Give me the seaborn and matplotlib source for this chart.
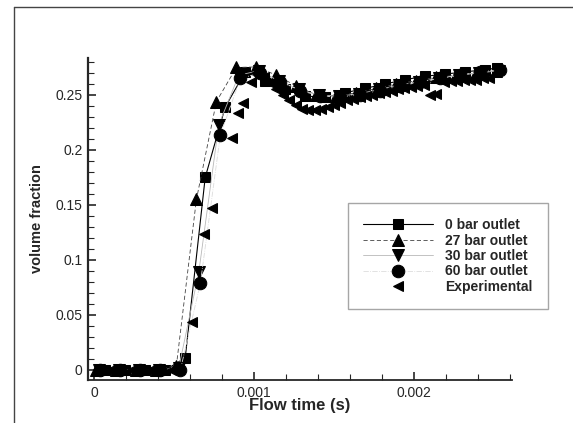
import numpy as np
import pandas as pd
import matplotlib
matplotlib.use("Agg")
import matplotlib.pyplot as plt
import seaborn as sns
from matplotlib.lines import Line2D
from matplotlib.ticker import MultipleLocator, FuncFormatter

# 0 bar outlet (squares)
t_0bar = [0.00007, 0.000195, 0.00032, 0.000445, 0.00057, 0.000695, 0.00082, 0.000945,
          0.00107, 0.001195, 0.00132, 0.001445, 0.00157, 0.001695, 0.00182, 0.001945,
          0.00207, 0.002195, 0.00232, 0.002445, 0.00252]
v_0bar = [0, 0, 0, 0, 0.011, 0.175, 0.239, 0.271,
          0.263, 0.255, 0.249, 0.248, 0.252, 0.256, 0.260, 0.264,
          0.267, 0.269, 0.271, 0.273, 0.2745]

# 27 bar outlet (up triangles)
t_27bar = [0.000015, 0.00014, 0.000265, 0.00039, 0.000515, 0.00064, 0.000765, 0.00089,
           0.001015, 0.00114, 0.001265, 0.00139, 0.001515, 0.00164, 0.001765, 0.00189,
           0.002015, 0.00214, 0.002265, 0.00239, 0.002515]
v_27bar = [0, 0, 0, 0, 0.004, 0.155, 0.244, 0.275,
           0.2755, 0.268, 0.258, 0.250, 0.249, 0.252, 0.256, 0.260,
           0.263, 0.266, 0.268, 0.270, 0.272]

# 30 bar outlet (down triangles)
t_30bar = [0.00003, 0.000155, 0.00028, 0.000405, 0.00053, 0.000655, 0.00078, 0.000905,
           0.00103, 0.001155, 0.00128, 0.001405, 0.00153, 0.001655, 0.00178, 0.001905,
           0.00203, 0.002155, 0.00228, 0.002405, 0.00253]
v_30bar = [0, 0, 0, 0, 0.002, 0.089, 0.223, 0.268,
           0.272, 0.263, 0.255, 0.250, 0.249, 0.251, 0.255, 0.259,
           0.262, 0.265, 0.268, 0.270, 0.272]

# 60 bar outlet (circles)
t_60bar = [0.00004, 0.000165, 0.00029, 0.000415, 0.00054, 0.000665, 0.00079, 0.000915,
           0.00104, 0.001165, 0.00129, 0.001415, 0.00154, 0.001665, 0.00179, 0.001915,
           0.00204, 0.002165, 0.00229, 0.002415, 0.00254]
v_60bar = [0, 0, 0, 0, 0, 0.079, 0.214, 0.265,
           0.270, 0.262, 0.254, 0.249, 0.248, 0.250, 0.254, 0.258,
           0.262, 0.265, 0.268, 0.271, 0.273]

# Experimental (left triangles)
t_exp = [0.0001, 0.00023, 0.00035, 0.00048, 0.00061, 0.00069, 0.00074, 0.00086,
         0.0009, 0.00093, 0.00098, 0.00101, 0.00106, 0.0011, 0.00114, 0.00118,
         0.00122, 0.00126, 0.0013, 0.00134, 0.00138, 0.00142, 0.00146, 0.0015,
         0.00154, 0.00158, 0.00162, 0.00166, 0.0017, 0.00174, 0.00178, 0.00182,
         0.00186, 0.0019, 0.00194, 0.00198, 0.00202, 0.00206, 0.0021, 0.00214,
         0.00219, 0.00223, 0.00227, 0.00231, 0.00235, 0.00239, 0.00243, 0.00247]
v_exp = [0, 0, 0, 0, 0.044, 0.124, 0.147, 0.211,
         0.234, 0.243, 0.262, 0.270, 0.266, 0.261, 0.255, 0.250,
         0.245, 0.241, 0.237, 0.236, 0.236, 0.237, 0.239, 0.241,
         0.243, 0.245, 0.246, 0.248, 0.249, 0.250, 0.252, 0.253,
         0.254, 0.255, 0.256, 0.257, 0.258, 0.259, 0.250, 0.251,
         0.262, 0.263, 0.263, 0.264, 0.264, 0.264, 0.265, 0.265]

sns.set_style("ticks")
plt.rcParams['font.family'] = ['Liberation Sans', 'DejaVu Sans']

fig = plt.figure(figsize=(5.73, 4.23), dpi=100)
ax = fig.add_axes([88 / 573, 1 - 380 / 423, (512 - 88) / 573, (380 - 58) / 423])

series = [
    ("0 bar outlet", t_0bar, v_0bar, "s", 7.5, dict(color="black", linestyle="-", linewidth=0.8)),
    ("27 bar outlet", t_27bar, v_27bar, "^", 8, dict(color="#444444", linestyle=(0, (5, 3)), linewidth=0.6)),
    ("30 bar outlet", t_30bar, v_30bar, "v", 8, dict(color="#b8b8b8", linestyle="-", linewidth=0.6)),
    ("60 bar outlet", t_60bar, v_60bar, "o", 9, dict(color="#dddddd", linestyle="-.", linewidth=0.6)),
]
for name, t, v, mk, ms, ls in series:
    df = pd.DataFrame({"t": t, "v": v})
    sns.lineplot(data=df, x="t", y="v", ax=ax, marker=mk, markersize=ms,
                 markerfacecolor="black", markeredgecolor="black",
                 sort=False, estimator=None, label=name, **ls)

df_exp = pd.DataFrame({"t": t_exp, "v": v_exp})
sns.lineplot(data=df_exp, x="t", y="v", ax=ax, marker="<", markersize=7,
             markerfacecolor="black", markeredgecolor="black", linestyle="none",
             color="black", sort=False, estimator=None, label="Experimental")

ax.set_xlim(-0.0000375, 0.0026125)
ax.set_ylim(-0.0091, 0.2836)
ax.xaxis.set_major_locator(MultipleLocator(0.001))
ax.xaxis.set_minor_locator(MultipleLocator(0.0002))
ax.yaxis.set_major_locator(MultipleLocator(0.05))
ax.yaxis.set_minor_locator(MultipleLocator(0.01))
ax.xaxis.set_major_formatter(FuncFormatter(lambda x, p: f"{x:g}"))
ax.yaxis.set_major_formatter(FuncFormatter(lambda x, p: f"{x:g}"))

sns.despine(ax=ax)
ax.spines['left'].set_linewidth(1.6)
ax.spines['bottom'].set_linewidth(1.3)
ax.tick_params(which='major', direction='in', length=6, width=1.2, labelsize=10, pad=4)
ax.tick_params(which='minor', direction='in', length=4, width=0.8)

ax.set_xlabel("Flow time (s)", fontsize=12, fontweight='bold', labelpad=-1)
ax.set_ylabel("volume fraction", fontsize=10.5, fontweight='bold', labelpad=8)

leg = ax.legend(loc="upper left", bbox_to_anchor=(348 / 573, 1 - 203 / 423),
                bbox_transform=fig.transFigure, borderaxespad=0,
                prop={'weight': 'bold', 'size': 10}, handlelength=5.0,
                labelspacing=0.1, borderpad=1.1, handletextpad=0.9,
                fancybox=False, frameon=True)
leg.get_frame().set_edgecolor("#909090")
leg.get_frame().set_linewidth(1.0)

# outer frame (left and top edges)
fig.add_artist(Line2D([14 / 573, 14 / 573], [0, 1 - 7 / 423], color="#444444", linewidth=1.0))
fig.add_artist(Line2D([14 / 573, 1], [1 - 7 / 423, 1 - 7 / 423], color="#444444", linewidth=1.0))

fig.savefig("out.png", dpi=100)
